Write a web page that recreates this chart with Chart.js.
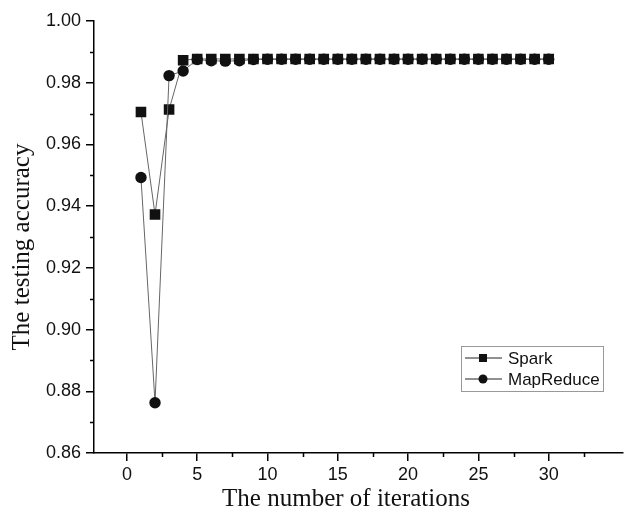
<!DOCTYPE html>
<html>
<head>
<meta charset="utf-8">
<script src="https://cdn.jsdelivr.net/npm/chart.js@4/dist/chart.umd.min.js"></script>
<style>
    body { margin: 0; background: #fff; }
    canvas { display: block; }
</style>
</head>
<body>
<canvas id="chartCanvas" width="630" height="513"></canvas>
<script>
const iterations = [1, 2, 3, 4, 5, 6, 7, 8, 9, 10, 11, 12, 13, 14, 15, 16, 17, 18, 19, 20, 21, 22, 23, 24, 25, 26, 27, 28, 29, 30];
const sparkAccuracy = [0.9705, 0.9373, 0.9713, 0.9873, 0.9877, 0.9877, 0.9877, 0.9877, 0.9877, 0.9877, 0.9877, 0.9877, 0.9877, 0.9877, 0.9877,
    0.9877, 0.9877, 0.9877, 0.9877, 0.9877, 0.9877, 0.9877, 0.9877, 0.9877, 0.9877, 0.9877, 0.9877, 0.9877, 0.9877, 0.9877];
const mapReduceAccuracy = [0.9493, 0.8763, 0.9823, 0.9838, 0.9875, 0.9871, 0.9870, 0.9871, 0.9875, 0.9876, 0.9876, 0.9876, 0.9876, 0.9876, 0.9876,
    0.9876, 0.9876, 0.9876, 0.9876, 0.9876, 0.9876, 0.9876, 0.9876, 0.9876, 0.9876, 0.9876, 0.9876, 0.9876, 0.9876, 0.9876];
const xTicks = [0, 5, 10, 15, 20, 25, 30];
const yTicks = [0.86, 0.88, 0.90, 0.92, 0.94, 0.96, 0.98, 1.00];
const seriesNames = ['Spark', 'MapReduce'];
const xTitle = 'The number of iterations';
const yTitle = 'The testing accuracy';

const toPoints = (ys) => iterations.map((x, i) => ({ x: x, y: ys[i] }));

// minor ticks halfway between the labelled ones
const minorTicks = {
    id: 'minorTicks',
    afterDraw(chart) {
        const ctx = chart.ctx;
        const xs = chart.scales.x;
        const ys = chart.scales.y;
        ctx.save();
        ctx.strokeStyle = '#000';
        ctx.lineWidth = 1.5;
        ctx.beginPath();
        for (let i = 0; i < xTicks.length; i++) {
            const v = xTicks[i] + 2.5;
            if (v > xs.max) continue;
            const px = Math.round(xs.getPixelForValue(v)) + 0.5;
            ctx.moveTo(px, ys.bottom);
            ctx.lineTo(px, ys.bottom + 4);
        }
        for (let i = 0; i < yTicks.length - 1; i++) {
            const py = Math.round(ys.getPixelForValue(yTicks[i] + 0.01)) + 0.5;
            ctx.moveTo(xs.left, py);
            ctx.lineTo(xs.left - 4, py);
        }
        ctx.stroke();
        ctx.restore();
    }
};

// axis titles sit a little off-centre in the original
const axisTitles = {
    id: 'axisTitles',
    afterDraw(chart) {
        const ctx = chart.ctx;
        ctx.save();
        ctx.fillStyle = '#111';
        ctx.font = '25px "Liberation Serif", "Times New Roman", serif';
        ctx.textAlign = 'center';
        ctx.textBaseline = 'middle';
        ctx.fillText(xTitle, 346, 499);
        ctx.translate(22, 247);
        ctx.rotate(-Math.PI / 2);
        ctx.fillText(yTitle, 0, 0);
        ctx.restore();
    }
};

const boxLegend = {
    id: 'boxLegend',
    afterDraw(chart) {
        const ctx = chart.ctx;
        const left = 461, top = 346, w = 142, h = 45;
        ctx.save();
        ctx.strokeStyle = '#999';
        ctx.lineWidth = 1;
        ctx.strokeRect(left + 0.5, top + 0.5, w, h);
        ctx.font = '17px "Liberation Sans", Arial, sans-serif';
        ctx.textBaseline = 'middle';
        seriesNames.forEach((name, i) => {
            const y = top + 12 + i * 21;
            ctx.strokeStyle = '#222';
            ctx.beginPath();
            ctx.moveTo(465, y);
            ctx.lineTo(502, y);
            ctx.stroke();
            ctx.fillStyle = '#111';
            if (i === 0) {
                ctx.fillRect(479, y - 4, 8, 8);
            } else {
                ctx.beginPath();
                ctx.arc(483, y, 4.5, 0, Math.PI * 2);
                ctx.fill();
            }
            ctx.fillText(name, 508, y + 1);
        });
        ctx.restore();
    }
};

const ctx = document.getElementById('chartCanvas').getContext('2d');

const config = {
    type: 'line',
    data: {
        datasets: [
            {
                label: seriesNames[0],
                data: toPoints(sparkAccuracy),
                borderColor: '#666',
                borderWidth: 1,
                backgroundColor: '#111',
                pointStyle: 'rect',
                pointRadius: 7.5,
                pointBorderWidth: 0,
                order: 1
            },
            {
                label: seriesNames[1],
                data: toPoints(mapReduceAccuracy),
                borderColor: '#666',
                borderWidth: 1,
                backgroundColor: '#111',
                pointStyle: 'circle',
                pointRadius: 5.7,
                pointBorderWidth: 0,
                order: 0
            }
        ]
    },
    options: {
        responsive: false,
        animation: false,
        layout: { padding: { top: 21, right: 0, left: 0, bottom: 0 } },
        plugins: {
            legend: { display: false },
            tooltip: { enabled: false }
        },
        scales: {
            x: {
                type: 'linear',
                min: -2.34,
                max: 35.25,
                afterBuildTicks(scale) {
                    scale.ticks = xTicks.map(v => ({ value: v }));
                },
                afterFit(scale) { scale.height = 60; },
                border: { color: '#000', width: 1.5 },
                grid: { drawOnChartArea: false, drawTicks: true, tickLength: 8, color: '#000', lineWidth: 1.5 },
                ticks: {
                    color: '#111',
                    padding: 3,
                    maxRotation: 0,
                    font: { family: '"Liberation Sans", Arial, sans-serif', size: 18 }
                }
            },
            y: {
                type: 'linear',
                min: 0.86,
                max: 1.00,
                afterBuildTicks(scale) {
                    scale.ticks = yTicks.map(v => ({ value: v }));
                },
                afterFit(scale) { scale.width = 94; },
                border: { color: '#000', width: 1.5 },
                grid: { drawOnChartArea: false, drawTicks: true, tickLength: 8, color: '#000', lineWidth: 1.5 },
                ticks: {
                    color: '#111',
                    padding: 5,
                    callback: (v) => Number(v).toFixed(2),
                    font: { family: '"Liberation Sans", Arial, sans-serif', size: 18 }
                }
            }
        }
    },
    plugins: [minorTicks, axisTitles, boxLegend]
};

window.myChart = new Chart(ctx, config);
</script>
</body>
</html>
